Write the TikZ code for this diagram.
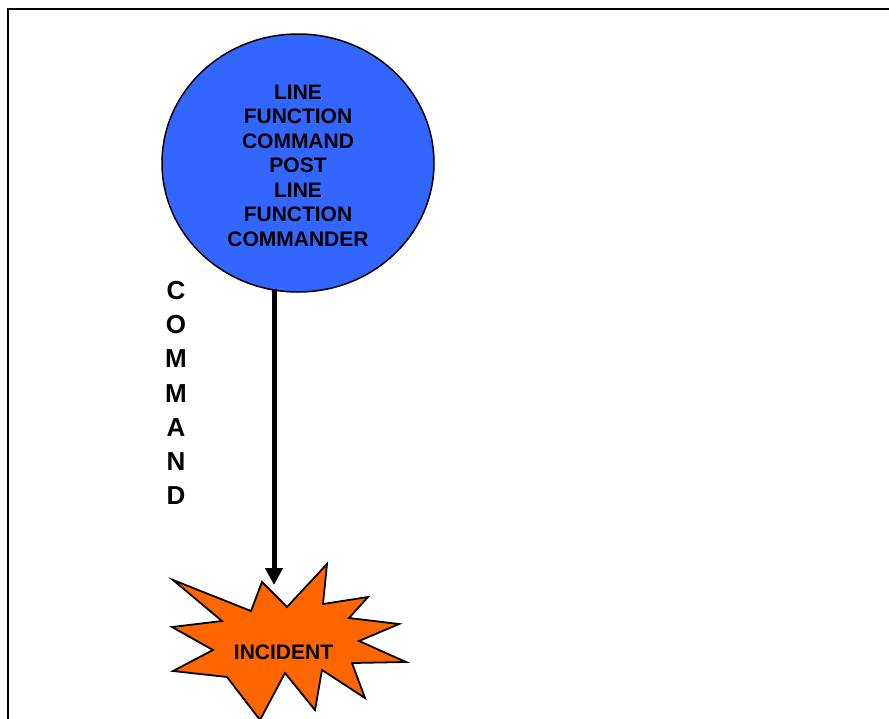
\documentclass[tikz,border=0pt]{standalone}
\usepackage{fontspec}
\setmainfont{Liberation Sans}
\usetikzlibrary{shapes.geometric,arrows.meta}
\definecolor{cblue}{HTML}{3366FF}
\definecolor{corange}{HTML}{FF6600}
\begin{document}
\begin{tikzpicture}[x=1pt,y=-1pt,
  lbl/.style={font=\bfseries\fontsize{21}{24.5}\selectfont, align=center, inner sep=0pt},
  vlbl/.style={font=\bfseries\fontsize{26}{34.2}\selectfont, align=center, inner sep=0pt},
  conn/.style={line width=5pt, -{Triangle[width=17pt,length=17pt]}},
  shapeline/.style={draw=black, line width=1.5pt}]
\useasboundingbox (0,0) rectangle (889,718);
\draw[line width=2pt] (8,9) rectangle (905,735);
% command post circle
\node[ellipse, shapeline, fill=cblue, minimum width=272pt, minimum height=258pt, inner sep=0pt] (post) at (298,163) {};
\node[lbl] (posttext) at (298,165.5) {LINE\\FUNCTION\\COMMAND\\POST\\LINE\\FUNCTION\\COMMANDER};
% vertical label
\node[vlbl] (cmd) at (176,393) {C\\O\\M\\M\\A\\N\\D};
% incident starburst
\draw[shapeline, line width=1.8pt, fill=corange, line join=miter]
  (173,580) -- (251,611) -- (262,582) -- (287,607) -- (327,564) -- (323,604)
  -- (368,597) -- (349,618) -- (399,624) -- (359,641) -- (406,662) -- (352,663)
  -- (365,698) -- (322,670) -- (315,710) -- (285,673) -- (260,720) -- (227,677)
  -- (173,671) -- (213,650) -- (172,627) -- (222,621) -- cycle;
\node[lbl] (incident) at (283.5,652) {INCIDENT};
% connector
\coordinate (cstart) at (274,289);
\coordinate (cend) at (274,585);
\draw[conn] (cstart) -- (cend);
\end{tikzpicture}
\end{document}
